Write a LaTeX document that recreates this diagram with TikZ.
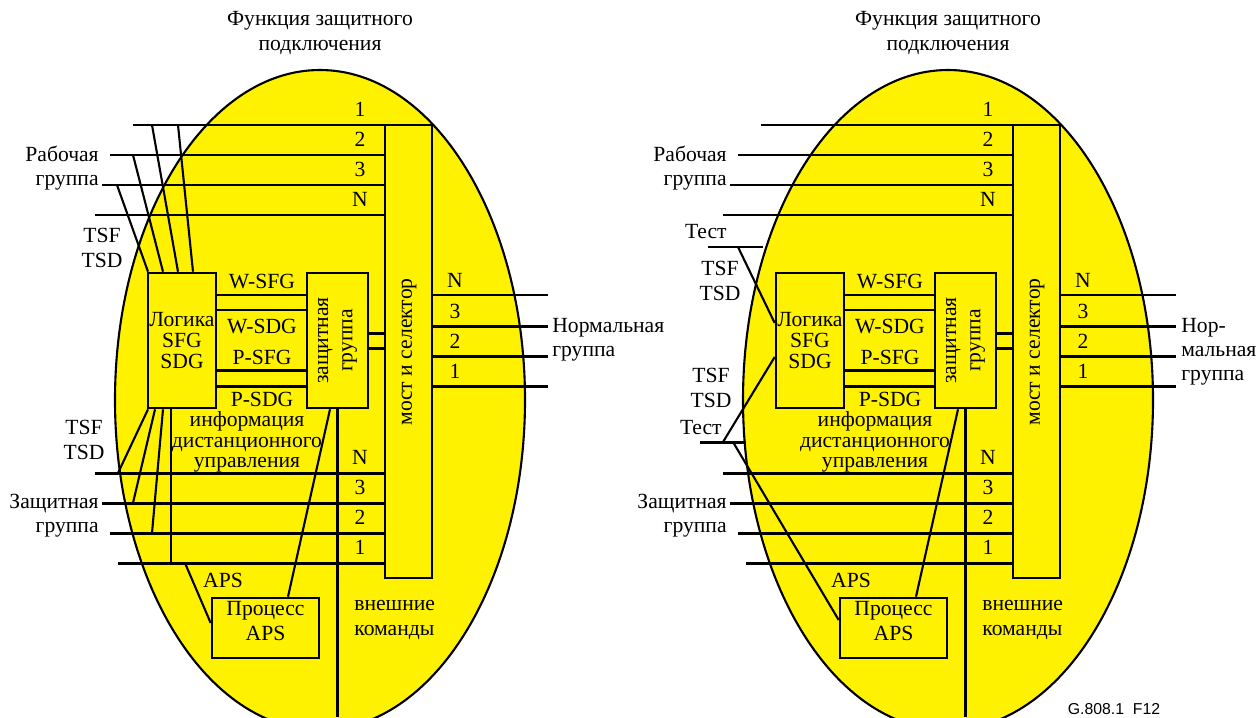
\documentclass[tikz,border=0pt]{standalone}
\usepackage{fontspec}
\setmainfont{Liberation Serif}
\newfontfamily\figfont{Liberation Sans}
\usetikzlibrary{fit}
\definecolor{fnyellow}{RGB}{255,242,0}

\tikzset{
  sig/.style={line width=1.7pt},
  tap/.style={line width=1.2pt},
  blk/.style={draw, line width=1.5pt, fill=fnyellow, inner sep=0pt},
  txt/.style={align=center, inner sep=0pt},
  num/.style={inner sep=0pt},
}

\begin{document}
\begin{tikzpicture}[x=0.02cm, y=-0.02cm, font=\fontsize{12.3}{13.8}\selectfont]
  \useasboundingbox (0,0) rectangle (1257,717);

  % parts that both functions share
  \foreach \dx/\side in {0/L, 628/R}{
  \begin{scope}[shift={(\dx,0)}, name prefix=\side-]
    \draw[line width=1.2pt, fill=fnyellow] (320,400) ellipse (205 and 330);
    \node[txt] (title) at (320,33) {Функция защитного\\подключения};

    \node[blk, fit={(385,125) (432,578)}] (bridge) {};
    \node[txt, rotate=90] (bridgetxt) at (409,352) {мост и селектор};
    \node[blk, fit={(148,273) (216,408)}] (logic) {};
    \node[txt, font=\fontsize{12.3}{12.2}\selectfont] (logictxt) at (logic.center) {Логика\\SFG\\SDG};
    \node[blk, fit={(307,273) (368,408)}] (prot) {};
    \node[txt, rotate=90] (prottxt) at (prot.center) {защитная\\группа};
    \node[blk, txt, fit={(212,598) (319,658)}] (aps) {Процесс\\APS};

    % working group
    \foreach \y/\xs/\lab [count=\i] in {125/133/1, 155/110/2, 185/102/3, 215/95/N}{
      \coordinate (w\i) at (\xs,\y);
      \draw[sig] (w\i) -- (bridge.west |- w\i);
      \node[num] (wn\i) at (360,\y-16) {\lab};
    }
    % protection group
    \foreach \y/\xs/\lab [count=\i] in {473/95/N, 503/102/3, 533/110/2, 563/118/1}{
      \coordinate (p\i) at (\xs,\y);
      \draw[sig] (p\i) -- (bridge.west |- p\i);
      \node[num] (pn\i) at (360,\y-16) {\lab};
    }
    % normal group
    \foreach \y/\lab [count=\i] in {295/N, 326/3, 356/2, 386/1}{
      \coordinate (n\i) at (548,\y);
      \draw[sig] (bridge.east |- n\i) -- (n\i);
      \node[num] (nn\i) at (455,\y-15) {\lab};
    }

    \foreach \y in {295, 310, 370, 386}
      \draw[sig] (logic.east |- 0,\y) -- (prot.west |- 0,\y);
    \foreach \y in {333, 348}
      \draw[sig] (prot.east |- 0,\y) -- (bridge.west |- 0,\y);
    \node[txt] (wsfg) at (262,282) {W-SFG};
    \node[txt] (wsdg) at (262,327) {W-SDG};
    \node[txt] (psfg) at (262,357) {P-SFG};
    \node[txt] (psdg) at (262,399) {P-SDG};
    \node[txt, font=\fontsize{12.3}{11.6}\selectfont] (remote) at (247,442)
      {информация\\дистанционного\\управления};

    \node[txt] (apslbl) at (223,580) {APS};
    \draw[tap] (prot.south -| 330,0) -- (aps.north -| 288,0);
    \coordinate (ext) at (338,717);
    \draw[sig] (prot.south) -- (prot.south |- ext);
    \node[txt, align=left, anchor=west] (extcmd) at (354,620) {внешние\\команды};

    \node[txt, align=right, anchor=east] (worklbl) at (99,168) {Рабочая\\группа};
    \node[txt, align=right, anchor=east] (protlbl) at (99,516) {Защитная\\группа};
  \end{scope}
  }

  % left: signal fail / degrade taken from the groups
  \begin{scope}[name prefix=L-]
    \node[txt] (tsfa) at (102,248) {TSF\\TSD};
    \node[txt] (tsfb) at (84,440) {TSF\\TSD};
    \node[txt, align=left, anchor=west] (normlbl) at (552,340) {Нормальная\\группа};
    \foreach \a/\y/\b [count=\i] in {117/185/148, 133/155/163, 152/125/178, 178/125/193}{
      \coordinate (ta\i) at (\a,\y);
      \draw[tap] (ta\i) -- (logic.north -| \b,0);
    }
    \foreach \a/\y/\b [count=\i] in {118/473/148, 133/503/155, 152/533/163, 171/563/171}{
      \coordinate (tb\i) at (\a,\y);
      \draw[tap] (logic.south -| \b,0) -- (tb\i);
    }
    \coordinate (apsin) at (185,563);
    \draw[tap] (apsin) -- (aps.west |- 0,623);
  \end{scope}

  % right: signal fail / degrade from test points
  \begin{scope}[shift={(628,0)}, name prefix=R-]
    \node[txt, align=left, anchor=west] (normlbl) at (553,352) {Нор-\\мальная\\группа};
    \node[txt, anchor=east] (testa) at (99,232) {Тест};
    \node[txt] (tsfa) at (92,281) {TSF\\TSD};
    \node[txt] (tsfb) at (83,388) {TSF\\TSD};
    \node[txt, anchor=east] (testb) at (94,428) {Тест};
    \coordinate (ua) at (80,247);
    \coordinate (ub) at (135,247);
    \coordinate (uc) at (110,247);
    \draw[sig] (ua) -- (ub);
    \draw[tap] (uc) -- (logic.west |- 0,323);
    \coordinate (la) at (72,442);
    \coordinate (lb) at (118,442);
    \coordinate (lc) at (95,442);
    \coordinate (ld) at (105,442);
    \draw[sig] (la) -- (lb);
    \draw[tap] (logic.west |- 0,357) -- (lc);
    \draw[tap] (ld) -- (aps.west |- 0,620);
  \end{scope}

  \node[font=\figfont\fontsize{9}{10}\selectfont, inner sep=0pt] (figid) at (1114,709) {G.808.1\ \ F12};
\end{tikzpicture}
\end{document}
